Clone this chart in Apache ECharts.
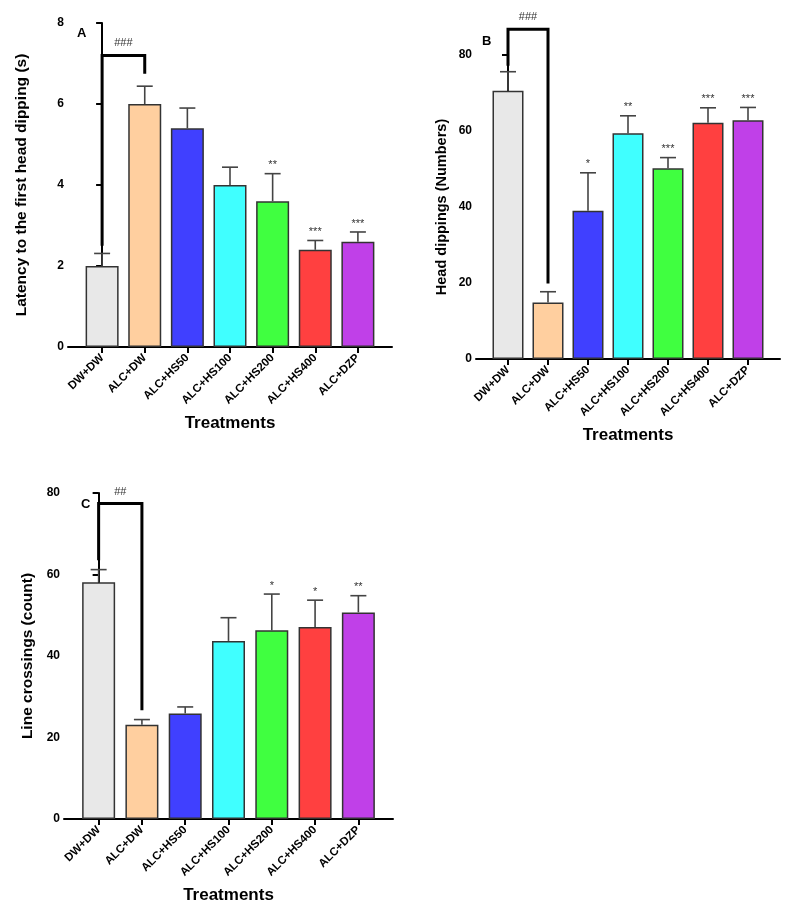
<!DOCTYPE html>
<html>
<head>
<meta charset="utf-8">
<script src="https://cdn.jsdelivr.net/npm/echarts@6/dist/echarts.min.js"></script>
<style>
  html, body { margin: 0; padding: 0; background: #fff; }
  #chart { width: 787px; height: 917px; }
</style>
</head>
<body>
<div id="chart"></div>
<script>
// treatment groups
const categories = ["DW+DW", "ALC+DW", "ALC+HS50", "ALC+HS100", "ALC+HS200", "ALC+HS400", "ALC+DZP"];

// A - latency to first head dipping (s)
const latencyMean = [2.0, 6.0, 5.4, 4.0, 3.6, 2.4, 2.6];
const latencyErr = [0.31, 0.44, 0.5, 0.44, 0.68, 0.23, 0.24];
const latencyStars = ["", "", "", "", "**", "***", "***"];
const latencyTicks = [0, 2, 4, 6, 8];

// B - head dippings (numbers)
const dipsMean = [70.6, 14.9, 39.0, 59.4, 50.2, 62.2, 62.8];
const dipsErr = [5.0, 2.8, 10.0, 4.6, 2.8, 3.9, 3.4];
const dipsStars = ["", "", "*", "**", "***", "***", "***"];
const dipsTicks = [0, 20, 40, 60, 80];

// C - line crossings (count)
const crossMean = [58.1, 23.1, 25.9, 43.7, 46.3, 47.1, 50.7];
const crossErr = [3.1, 1.3, 1.6, 5.7, 8.9, 6.6, 4.1];
const crossStars = ["", "", "", "", "*", "*", "**"];
const crossTicks = [0, 20, 40, 60, 80];

// brackets DW+DW vs ALC+DW: [left leg start, top, right leg end], label
const latencyBracket = [2.5, 7.2, 6.75];
const dipsBracket = [77.2, 86.8, 19.9];
const crossBracket = [63.5, 77.4, 26.7];
const bracketLabels = ["###", "###", "##"];

const barColors = ["#e8e8e8", "#ffcf9f", "#4040ff", "#40ffff", "#40ff40", "#ff4040", "#c040e8"];
const font = "Arial, 'Liberation Sans', sans-serif";

const chart = echarts.init(document.getElementById("chart"));

const grids = [
  { left: 68, top: 23, width: 324, height: 324 },
  { left: 476, top: 55, width: 304, height: 304 },
  { left: 64, top: 493, width: 329, height: 326 },
];
const yNames = ["Latency to the first head dipping (s)", "Head dippings (Numbers)", "Line crossings (count)"];
const yGaps = [38, 27, 28];
const yNameSizes = [15.5, 14.5, 15.5];
const yTicks = [latencyTicks, dipsTicks, crossTicks];
const barWidths = [33, 31, 33];
const idx = categories.map((c, i) => i);

function xAxisFor(g) {
  return {
    type: "value", gridIndex: g, min: -0.8, max: 6.8,
    name: "Treatments", nameLocation: "middle", nameGap: 68,
    nameTextStyle: { fontFamily: font, fontWeight: "bold", fontSize: 17, color: "#000" },
    axisLine: { onZero: false, lineStyle: { color: "#000", width: 2 } },
    axisTick: { customValues: idx, length: 6, lineStyle: { color: "#000", width: 2 } },
    axisLabel: {
      customValues: idx, rotate: 45, margin: 9,
      fontFamily: font, fontWeight: "bold", fontSize: 11.5, color: "#000",
      formatter: (v) => categories[Math.round(v)],
    },
    splitLine: { show: false },
  };
}

function yAxisFor(g) {
  const t = yTicks[g];
  return {
    type: "value", gridIndex: g, min: t[0], max: t[t.length - 1], interval: t[1] - t[0],
    name: yNames[g], nameLocation: "middle", nameGap: yGaps[g],
    nameTextStyle: { fontFamily: font, fontWeight: "bold", fontSize: yNameSizes[g], color: "#000" },
    axisLine: { show: true, lineStyle: { color: "#000", width: 2 } },
    axisTick: { show: true, length: 6, lineStyle: { color: "#000", width: 2 } },
    axisLabel: { fontFamily: font, fontWeight: "bold", fontSize: 12, color: "#000", margin: 4 },
    splitLine: { show: false },
  };
}

function panelSeries(g, means, errs, stars, bracket, bracketLabel) {
  return [
    {
      type: "bar", xAxisIndex: g, yAxisIndex: g, barWidth: barWidths[g],
      data: means.map((v, i) => ({
        value: [i, v],
        itemStyle: { color: barColors[i], borderColor: "#333", borderWidth: 1.5 },
      })),
      z: 2,
    },
    {
      type: "custom", xAxisIndex: g, yAxisIndex: g, z: 3,
      data: means.map((v, i) => [i, v, errs[i]]),
      renderItem: (params, api) => {
        const x = api.value(0), m = api.value(1), e = api.value(2);
        const p0 = api.coord([x, m]);
        const p1 = api.coord([x, m + e]);
        const style = { stroke: "#444", lineWidth: 1.6 };
        return {
          type: "group",
          children: [
            { type: "line", shape: { x1: p0[0], y1: p0[1], x2: p1[0], y2: p1[1] }, style },
            { type: "line", shape: { x1: p1[0] - 8, y1: p1[1], x2: p1[0] + 8, y2: p1[1] }, style },
            {
              type: "text",
              style: {
                text: stars[params.dataIndex], x: p1[0], y: p1[1] - 3,
                align: "center", verticalAlign: "bottom",
                font: "11px " + font, fill: "#333",
              },
            },
          ],
        };
      },
    },
    {
      type: "custom", xAxisIndex: g, yAxisIndex: g, z: 4, clip: false,
      data: [[0, bracket[0], bracket[1], 1, bracket[2]]],
      renderItem: (params, api) => {
        const a = api.coord([api.value(0), api.value(1)]);
        const top = api.coord([api.value(0), api.value(2)]);
        const b = api.coord([api.value(3), api.value(4)]);
        return {
          type: "group",
          children: [
            {
              type: "polyline",
              shape: { points: [[a[0], a[1]], [a[0], top[1]], [b[0], top[1]], [b[0], b[1]]] },
              style: { stroke: "#000", lineWidth: 3, fill: null },
            },
            {
              type: "text",
              style: {
                text: bracketLabel, x: (a[0] + b[0]) / 2, y: top[1] - 12,
                align: "center", verticalAlign: "middle",
                font: "11px " + font, fill: "#333",
              },
            },
          ],
        };
      },
    },
  ];
}

const letterStyle = { fontFamily: font, fontWeight: "bold", fontSize: 13, color: "#000" };

const option = {
  animation: false,
  backgroundColor: "#fff",
  title: [
    { text: "A", left: 72, top: 22, textStyle: letterStyle },
    { text: "B", left: 477, top: 30, textStyle: letterStyle },
    { text: "C", left: 76, top: 493, textStyle: letterStyle },
  ],
  grid: grids,
  xAxis: [xAxisFor(0), xAxisFor(1), xAxisFor(2)],
  yAxis: [yAxisFor(0), yAxisFor(1), yAxisFor(2)],
  series: [
    ...panelSeries(0, latencyMean, latencyErr, latencyStars, latencyBracket, bracketLabels[0]),
    ...panelSeries(1, dipsMean, dipsErr, dipsStars, dipsBracket, bracketLabels[1]),
    ...panelSeries(2, crossMean, crossErr, crossStars, crossBracket, bracketLabels[2]),
  ],
};

chart.setOption(option);
</script>
</body>
</html>
